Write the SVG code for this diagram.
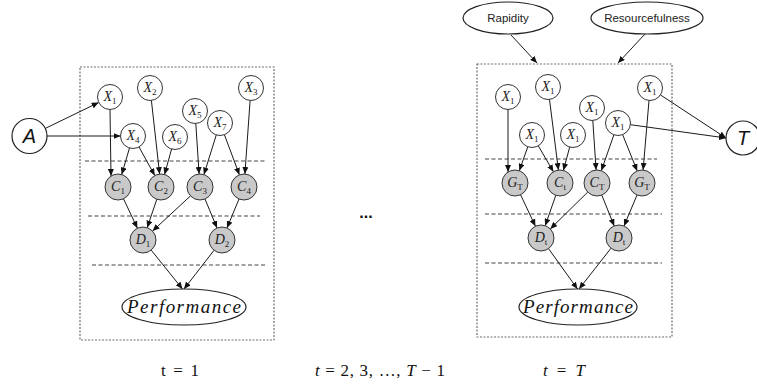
<svg xmlns="http://www.w3.org/2000/svg" width="757" height="385" viewBox="0 0 757 385">
<style>
.frame{fill:none;stroke:#6e6e6e;stroke-width:1.2;stroke-dasharray:2,1.5}
.sep{fill:none;stroke:#444;stroke-width:1.1;stroke-dasharray:4,2.5}
.x{fill:#fff;stroke:#333;stroke-width:1}
.g{fill:#c9c9c9;stroke:#333;stroke-width:1}
.big{fill:#fff;stroke:#222;stroke-width:1.2}
.lbl{font-family:"Liberation Serif",serif;font-style:italic;font-size:14px;fill:#222;text-anchor:middle}
.sub{font-style:normal;font-size:9px}
.perf{font-family:"Liberation Serif",serif;font-style:italic;font-size:19px;fill:#111;text-anchor:middle}
.sans{font-family:"Liberation Sans",Arial,sans-serif;font-size:11.5px;fill:#222;text-anchor:middle}
.ital{font-family:"Liberation Sans",Arial,sans-serif;font-style:italic;font-size:20px;fill:#111;text-anchor:middle}
.cap{font-family:"Liberation Serif",serif;font-size:17px;fill:#111;text-anchor:middle}
#edges line{stroke:#1a1a1a;stroke-width:1;marker-end:url(#ah)}
</style>
<defs>
<marker id="ah" markerUnits="userSpaceOnUse" markerWidth="7" markerHeight="6" refX="7" refY="3" orient="auto">
<path d="M0,0 L7,3 L0,6 z" fill="#111"/>
</marker>
</defs>

<rect class="frame" x="80" y="67" width="194" height="273"/>
<rect class="frame" x="477" y="64" width="195" height="273"/>
<g id="separators">
<line class="sep" x1="85" y1="161" x2="265" y2="161"/>
<line class="sep" x1="88" y1="216" x2="260" y2="216"/>
<line class="sep" x1="92" y1="265" x2="265" y2="265"/>
<line class="sep" x1="485" y1="159" x2="657" y2="159"/>
<line class="sep" x1="485" y1="214" x2="662" y2="214"/>
<line class="sep" x1="485" y1="263" x2="662" y2="263"/>
</g>

<g id="edges">
<line x1="45.3" y1="128.4" x2="98.7" y2="102.5"/>
<line x1="47" y1="136" x2="120.5" y2="136"/>
<line x1="110" y1="109.5" x2="111" y2="176"/>
<line x1="129.5" y1="148" x2="121.7" y2="174.5"/>
<line x1="139" y1="147" x2="154.8" y2="175.6"/>
<line x1="151.4" y1="100.4" x2="159.6" y2="174.1"/>
<line x1="171.6" y1="149" x2="164.5" y2="174.5"/>
<line x1="195.8" y1="123.5" x2="199.1" y2="174"/>
<line x1="216.3" y1="134.9" x2="203.9" y2="174.6"/>
<line x1="224.4" y1="134.7" x2="239.4" y2="174.8"/>
<line x1="250.1" y1="100.5" x2="244.9" y2="174"/>
<line x1="123.5" y1="198.8" x2="137.4" y2="228.2"/>
<line x1="156.8" y1="199.3" x2="147.2" y2="227.7"/>
<line x1="190.5" y1="195.9" x2="152.5" y2="231.1"/>
<line x1="205" y1="199" x2="217" y2="228"/>
<line x1="239" y1="199" x2="227" y2="228"/>
<line x1="151.2" y1="250.1" x2="182.5" y2="289"/>
<line x1="214" y1="250.3" x2="184" y2="289"/>

<line x1="511" y1="35" x2="537" y2="63"/>
<line x1="645" y1="34" x2="618" y2="63"/>
<line x1="508" y1="109.5" x2="508" y2="172"/>
<line x1="527.8" y1="146.8" x2="519.3" y2="170.7"/>
<line x1="538.3" y1="145.8" x2="553.4" y2="171.8"/>
<line x1="549.5" y1="99.4" x2="558.4" y2="170.1"/>
<line x1="569.7" y1="147.1" x2="563.4" y2="170.4"/>
<line x1="592.8" y1="120.5" x2="596.1" y2="170"/>
<line x1="613.9" y1="134.8" x2="601.3" y2="170.7"/>
<line x1="622.6" y1="134.6" x2="637.2" y2="170.9"/>
<line x1="649" y1="100.5" x2="643.1" y2="170"/>
<line x1="660.4" y1="94.9" x2="726" y2="138"/>
<line x1="630.4" y1="124.7" x2="726" y2="138"/>
<line x1="520.6" y1="194.8" x2="535.4" y2="226.2"/>
<line x1="555.8" y1="195.3" x2="545.2" y2="225.7"/>
<line x1="587.7" y1="192.1" x2="550.3" y2="228.9"/>
<line x1="601.8" y1="195.1" x2="614.2" y2="226"/>
<line x1="637" y1="195" x2="624" y2="226"/>
<line x1="548.5" y1="248.6" x2="577.5" y2="289"/>
<line x1="611" y1="248.2" x2="579" y2="289"/>
</g>

<!-- left panel nodes -->
<g id="A"><circle class="big" cx="29.5" cy="136" r="17.5"/><text class="ital" x="29.5" y="143">A</text></g>
<g id="L_X1"><circle class="x" cx="110" cy="97" r="12.5"/><text class="lbl" x="110" y="101">X<tspan class="sub" dy="3">1</tspan></text></g>
<g id="L_X2"><circle class="x" cx="150" cy="88" r="12.5"/><text class="lbl" x="150" y="92">X<tspan class="sub" dy="3">2</tspan></text></g>
<g id="L_X3"><circle class="x" cx="251" cy="88" r="12.5"/><text class="lbl" x="251" y="92">X<tspan class="sub" dy="3">3</tspan></text></g>
<g id="L_X5"><circle class="x" cx="195" cy="111" r="12.5"/><text class="lbl" x="195" y="115">X<tspan class="sub" dy="3">5</tspan></text></g>
<g id="L_X7"><circle class="x" cx="220" cy="123" r="12.5"/><text class="lbl" x="220" y="127">X<tspan class="sub" dy="3">7</tspan></text></g>
<g id="L_X4"><circle class="x" cx="133" cy="136" r="12.5"/><text class="lbl" x="133" y="140">X<tspan class="sub" dy="3">4</tspan></text></g>
<g id="L_X6"><circle class="x" cx="175" cy="137" r="12.5"/><text class="lbl" x="175" y="141">X<tspan class="sub" dy="3">6</tspan></text></g>
<g id="L_C1"><circle class="g" cx="118" cy="187" r="13"/><text class="lbl" x="118" y="191">C<tspan class="sub" dy="3">1</tspan></text></g>
<g id="L_C2"><circle class="g" cx="161" cy="187" r="13"/><text class="lbl" x="161" y="191">C<tspan class="sub" dy="3">2</tspan></text></g>
<g id="L_C3"><circle class="g" cx="200" cy="187" r="13"/><text class="lbl" x="200" y="191">C<tspan class="sub" dy="3">3</tspan></text></g>
<g id="L_C4"><circle class="g" cx="244" cy="187" r="13"/><text class="lbl" x="244" y="191">C<tspan class="sub" dy="3">4</tspan></text></g>
<g id="L_D1"><circle class="g" cx="143" cy="240" r="13"/><text class="lbl" x="143" y="244">D<tspan class="sub" dy="3">1</tspan></text></g>
<g id="L_D2"><circle class="g" cx="222" cy="240" r="13"/><text class="lbl" x="222" y="244">D<tspan class="sub" dy="3">2</tspan></text></g>
<g id="L_Perf"><ellipse class="big" cx="184" cy="307" rx="62" ry="18"/><text class="perf" x="184" y="313" textLength="114" lengthAdjust="spacing">Performance</text></g>

<!-- right panel nodes -->
<g id="Rapidity"><ellipse class="big" cx="508" cy="18" rx="45" ry="16"/><text class="sans" x="508" y="22">Rapidity</text></g>
<g id="Resourcefulness"><ellipse class="big" cx="647" cy="18" rx="56" ry="16"/><text class="sans" x="647" y="22">Resourcefulness</text></g>
<g id="R_Xa"><circle class="x" cx="508" cy="97" r="12.5"/><text class="lbl" x="508" y="101">X<tspan class="sub" dy="3">1</tspan></text></g>
<g id="R_Xb"><circle class="x" cx="548" cy="87" r="12.5"/><text class="lbl" x="548" y="91">X<tspan class="sub" dy="3">1</tspan></text></g>
<g id="R_Xc"><circle class="x" cx="592" cy="108" r="12.5"/><text class="lbl" x="592" y="112">X<tspan class="sub" dy="3">1</tspan></text></g>
<g id="R_Xd"><circle class="x" cx="650" cy="88" r="12.5"/><text class="lbl" x="650" y="92">X<tspan class="sub" dy="3">1</tspan></text></g>
<g id="R_Xe"><circle class="x" cx="532" cy="135" r="12.5"/><text class="lbl" x="532" y="139">X<tspan class="sub" dy="3">1</tspan></text></g>
<g id="R_Xf"><circle class="x" cx="573" cy="135" r="12.5"/><text class="lbl" x="573" y="139">X<tspan class="sub" dy="3">1</tspan></text></g>
<g id="R_Xg"><circle class="x" cx="618" cy="123" r="12.5"/><text class="lbl" x="618" y="127">X<tspan class="sub" dy="3">1</tspan></text></g>
<g id="T"><circle class="big" cx="743" cy="138" r="17"/><text class="ital" x="743" y="145">T</text></g>
<g id="R_G1"><circle class="g" cx="515" cy="183" r="13"/><text class="lbl" x="515" y="187">G<tspan class="sub" dy="3">T</tspan></text></g>
<g id="R_Ct"><circle class="g" cx="560" cy="183" r="13"/><text class="lbl" x="560" y="187">C<tspan class="sub" dy="3">t</tspan></text></g>
<g id="R_CT"><circle class="g" cx="597" cy="183" r="13"/><text class="lbl" x="597" y="187">C<tspan class="sub" dy="3">T</tspan></text></g>
<g id="R_G4"><circle class="g" cx="642" cy="183" r="13"/><text class="lbl" x="642" y="187">G<tspan class="sub" dy="3">T</tspan></text></g>
<g id="R_D1"><circle class="g" cx="541" cy="238" r="13"/><text class="lbl" x="541" y="242">D<tspan class="sub" dy="3">t</tspan></text></g>
<g id="R_D2"><circle class="g" cx="619" cy="238" r="13"/><text class="lbl" x="619" y="242">D<tspan class="sub" dy="3">t</tspan></text></g>
<g id="R_Perf"><ellipse class="big" cx="578" cy="307" rx="59" ry="18"/><text class="perf" x="578" y="313" textLength="110" lengthAdjust="spacing">Performance</text></g>

<text x="366" y="218" font-family="Liberation Sans, Arial, sans-serif" font-weight="bold" font-size="16" fill="#111" text-anchor="middle">...</text>

<text class="cap" x="180" y="376" textLength="38" lengthAdjust="spacing">t = 1</text>
<text class="cap" x="380" y="376" textLength="130" lengthAdjust="spacing"><tspan font-style="italic">t</tspan> = 2, 3, …, <tspan font-style="italic">T</tspan> − 1</text>
<text class="cap" x="564" y="376" textLength="42" lengthAdjust="spacing"><tspan font-style="italic">t</tspan> = <tspan font-style="italic">T</tspan></text>
</svg>
